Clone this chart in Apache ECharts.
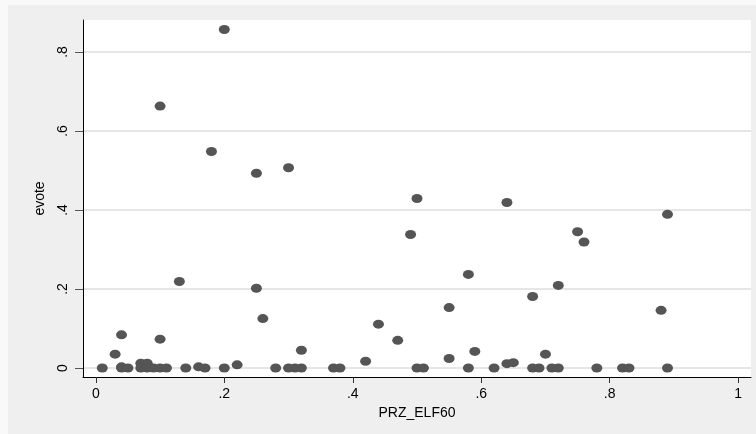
<!DOCTYPE html>
<html>
<head>
<meta charset="utf-8">
<script src="https://cdn.jsdelivr.net/npm/echarts@6.0.0/dist/echarts.min.js"></script>
<style>
  html, body { margin: 0; padding: 0; background: #f9f9f9; }
  #chart { position: absolute; left: 8px; top: 5px; width: 748px; height: 429px; }
</style>
</head>
<body>
<div id="chart"></div>
<script>
// PRZ_ELF60 (x) vs evote (y)
var elfValues = [
  0.01, 0.03, 0.04, 0.04, 0.04, 0.05, 0.07, 0.08, 0.07, 0.08,
  0.09, 0.10, 0.11, 0.10, 0.10, 0.13, 0.14, 0.16, 0.17, 0.18,
  0.20, 0.20, 0.22, 0.25, 0.25, 0.26, 0.28, 0.30, 0.30, 0.31,
  0.32, 0.32, 0.37, 0.38, 0.42, 0.44, 0.47, 0.49, 0.50, 0.50,
  0.51, 0.55, 0.55, 0.58, 0.58, 0.59, 0.62, 0.64, 0.64, 0.65,
  0.68, 0.68, 0.69, 0.70, 0.71, 0.72, 0.72, 0.75, 0.76, 0.78,
  0.82, 0.83, 0.88, 0.89, 0.89
];
var evoteValues = [
  0, 0.035, 0.084, 0.003, 0, 0, 0.012, 0.012, 0, 0,
  0, 0, 0, 0.073, 0.663, 0.219, 0, 0.003, 0, 0.548,
  0.857, 0, 0.008, 0.493, 0.202, 0.125, 0, 0.507, 0, 0,
  0, 0.045, 0, 0, 0.017, 0.111, 0.07, 0.338, 0.429, 0,
  0, 0.153, 0.024, 0.237, 0, 0.042, 0, 0.419, 0.011, 0.0135,
  0.181, 0, 0, 0.035, 0, 0, 0.209, 0.345, 0.319, 0,
  0, 0, 0.146, 0.389, 0
];

var xTicks = [0, 0.2, 0.4, 0.6, 0.8, 1];
var xTickLabels = ['0', '.2', '.4', '.6', '.8', '1'];
var yTicks = [0, 0.2, 0.4, 0.6, 0.8];
var yTickLabels = ['0', '.2', '.4', '.6', '.8'];

var points = elfValues.map(function (x, i) { return [x, evoteValues[i]]; });

function labelFor(ticks, labels) {
  return function (v) {
    for (var i = 0; i < ticks.length; i++) {
      if (Math.abs(ticks[i] - v) < 1e-6) return labels[i];
    }
    return '';
  };
}

var font = '"Liberation Sans", Arial, sans-serif';

var myChart = echarts.init(document.getElementById('chart'));
var option = {
  backgroundColor: '#efefef',
  animation: false,
  textStyle: { fontFamily: font },
  grid: {
    left: 75, top: 15, right: 5, bottom: 57,
    show: true, backgroundColor: '#ffffff', borderWidth: 0
  },
  xAxis: {
    type: 'value',
    min: -0.02, max: 1.02,
    name: 'PRZ_ELF60',
    nameLocation: 'middle',
    nameGap: 28,
    nameTextStyle: { fontSize: 14, color: '#000', fontFamily: font },
    axisLine: { show: true, onZero: false, lineStyle: { color: '#000', width: 1 } },
    axisTick: { show: true, length: 6, customValues: xTicks, lineStyle: { color: '#333' } },
    axisLabel: {
      customValues: xTicks, margin: 10, fontSize: 14, color: '#000', fontFamily: font,
      formatter: labelFor(xTicks, xTickLabels)
    },
    splitLine: { show: false }
  },
  yAxis: {
    type: 'value',
    min: -0.0228, max: 0.881,
    name: 'evote',
    nameLocation: 'middle',
    nameRotate: 90,
    nameGap: 36,
    nameTextStyle: { fontSize: 14, color: '#000', fontFamily: font },
    axisLine: { show: true, onZero: false, lineStyle: { color: '#000', width: 1 } },
    axisTick: { show: true, length: 8, customValues: yTicks, lineStyle: { color: '#555' } },
    axisLabel: {
      customValues: yTicks, rotate: 90, margin: 13, fontSize: 14, color: '#000', fontFamily: font,
      formatter: labelFor(yTicks, yTickLabels)
    },
    splitLine: { show: true, lineStyle: { color: '#e6e6e6', width: 2 } }
  },
  series: [{
    type: 'scatter',
    data: points,
    symbol: 'circle',
    symbolSize: [11, 9],
    itemStyle: { color: '#555555', opacity: 1 }
  }]
};
myChart.setOption(option);
</script>
</body>
</html>
